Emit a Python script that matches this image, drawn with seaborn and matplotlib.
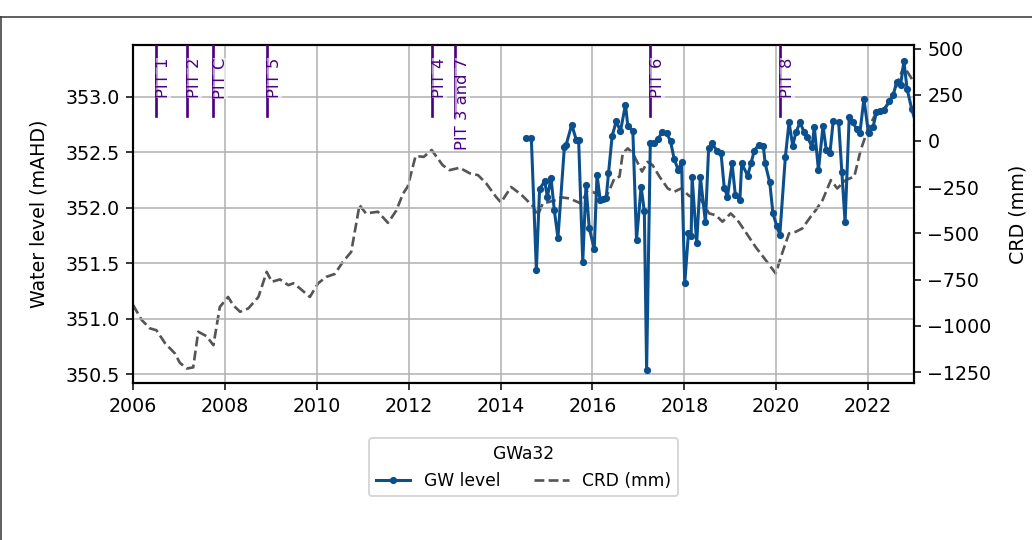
import matplotlib
matplotlib.use("Agg")
import matplotlib.pyplot as plt
import seaborn as sns
import pandas as pd
from matplotlib.lines import Line2D
from matplotlib.ticker import MultipleLocator, FormatStrFormatter

# ---------------- data ----------------
crd_year = [2006.0, 2006.19, 2006.37, 2006.51, 2006.7, 2006.91, 2007.02, 2007.17, 2007.31, 2007.42,
            2007.6, 2007.75, 2007.89, 2008.07, 2008.18, 2008.33, 2008.51, 2008.73, 2008.91, 2009.02,
            2009.2, 2009.38, 2009.49, 2009.63, 2009.85, 2010.03, 2010.21, 2010.39, 2010.57, 2010.75,
            2010.93, 2011.07, 2011.33, 2011.55, 2011.73, 2011.88, 2011.98, 2012.15, 2012.33, 2012.5,
            2012.74, 2012.89, 2013.11, 2013.33, 2013.51, 2013.69, 2013.9, 2014.01, 2014.23, 2014.45,
            2014.7, 2014.81, 2014.92, 2015.07, 2015.21, 2015.32, 2015.5, 2015.75, 2015.9, 2016.08,
            2016.26, 2016.37, 2016.48, 2016.59, 2016.66, 2016.77, 2016.88, 2016.99, 2017.08, 2017.2,
            2017.31, 2017.46, 2017.64, 2017.78, 2017.93, 2018.11, 2018.36, 2018.54, 2018.69, 2018.83,
            2019.01, 2019.16, 2019.33, 2019.55, 2019.77, 2019.99, 2020.14, 2020.28, 2020.43, 2020.57,
            2020.75, 2020.86, 2021.01, 2021.19, 2021.33, 2021.51, 2021.7, 2021.84, 2021.99, 2022.17,
            2022.35, 2022.5, 2022.69, 2022.78, 2023.0]
crd_mm = [-887, -969, -1014, -1024, -1095, -1149, -1200, -1231, -1225, -1032,
          -1056, -1105, -898, -844, -888, -924, -906, -844, -708, -762,
          -749, -780, -770, -797, -844, -770, -735, -720, -654, -600,
          -347, -392, -383, -443, -377, -284, -247, -82, -86, -49,
          -131, -158, -145, -175, -185, -230, -302, -333, -249, -290,
          -352, -402, -338, -329, -320, -305, -311, -338, -266, -284,
          -320, -266, -202, -193, -67, -40, -67, -121, -166, -113,
          -131, -193, -257, -275, -257, -298, -317, -392, -402, -437,
          -392, -429, -491, -573, -644, -717, -600, -500, -491, -473,
          -410, -375, -320, -212, -257, -212, -193, -49, 59, 150,
          176, 221, 346, 404, 317]

gw_year = [2014.56, 2014.67, 2014.78, 2014.85, 2014.96, 2015.02, 2015.10, 2015.17, 2015.25, 2015.39,
           2015.43, 2015.55, 2015.65, 2015.70, 2015.79, 2015.86, 2015.93, 2016.04, 2016.10, 2016.17,
           2016.24, 2016.30, 2016.35, 2016.43, 2016.52, 2016.61, 2016.72, 2016.77, 2016.88, 2016.96,
           2017.06, 2017.13, 2017.18, 2017.26, 2017.33, 2017.43, 2017.51, 2017.62, 2017.70, 2017.78,
           2017.87, 2017.94, 2018.01, 2018.09, 2018.15, 2018.17, 2018.27, 2018.35, 2018.46, 2018.53,
           2018.60, 2018.72, 2018.80, 2018.87, 2018.94, 2019.04, 2019.11, 2019.21, 2019.25, 2019.38,
           2019.45, 2019.52, 2019.62, 2019.72, 2019.76, 2019.86, 2019.93, 2020.01, 2020.08, 2020.20,
           2020.28, 2020.36, 2020.43, 2020.52, 2020.61, 2020.68, 2020.78, 2020.83, 2020.92, 2021.02,
           2021.09, 2021.17, 2021.24, 2021.36, 2021.43, 2021.50, 2021.59, 2021.67, 2021.75, 2021.82,
           2021.91, 2022.01, 2022.11, 2022.18, 2022.25, 2022.35, 2022.46, 2022.55, 2022.62, 2022.71,
           2022.78, 2022.85, 2022.95, 2023.05]
gw_level = [352.63, 352.63, 351.44, 352.17, 352.24, 352.10, 352.27, 351.98, 351.73, 352.55,
            352.57, 352.75, 352.61, 352.61, 351.51, 352.21, 351.82, 351.63, 352.30, 352.07,
            352.08, 352.09, 352.31, 352.65, 352.78, 352.69, 352.93, 352.74, 352.69, 351.71,
            352.19, 351.97, 350.54, 352.58, 352.58, 352.62, 352.68, 352.67, 352.60, 352.44,
            352.34, 352.41, 351.32, 351.77, 351.75, 352.28, 351.68, 352.28, 351.87, 352.54,
            352.58, 352.51, 352.49, 352.18, 352.10, 352.40, 352.12, 352.07, 352.40, 352.29,
            352.40, 352.51, 352.57, 352.56, 352.40, 352.23, 351.95, 351.84, 351.76, 352.46,
            352.77, 352.56, 352.68, 352.77, 352.68, 352.64, 352.55, 352.73, 352.34, 352.74,
            352.52, 352.49, 352.78, 352.77, 352.32, 351.87, 352.82, 352.77, 352.71, 352.67,
            352.98, 352.67, 352.73, 352.86, 352.87, 352.88, 352.96, 353.02, 353.13, 353.11,
            353.32, 353.07, 352.89, 352.75]

pit_labels = ["PIT 1", "PIT 2", "PIT C", "PIT 5", "PIT 4", "PIT 3 and 7", "PIT 6", "PIT 8"]
pit_year = [2006.5, 2007.17, 2007.75, 2008.92, 2012.5, 2013.0, 2017.25, 2020.08]

legend_title = "GWa32"

# ---------------- figure ----------------
DPI = 137
fig = plt.figure(figsize=(1032 / DPI, 540 / DPI), dpi=DPI)
ax = fig.add_axes([133 / 1032, 1 - 383.3 / 540, (914 - 133) / 1032, (383.3 - 45) / 540])
ax2 = ax.twinx()

gw_df = pd.DataFrame({"year": gw_year, "level": gw_level})
crd_df = pd.DataFrame({"year": crd_year, "crd": crd_mm})

blue = "#0b4f8c"
sns.lineplot(data=gw_df, x="year", y="level", ax=ax, color=blue, marker="o",
             markersize=3.8, markeredgewidth=0, linewidth=1.6, label="GW level", legend=False)
sns.lineplot(data=crd_df, x="year", y="crd", ax=ax2, color="#555555", linestyle="--",
             linewidth=1.4, label="CRD (mm)", legend=False)

ax.set_zorder(ax2.get_zorder() + 1)
ax.patch.set_visible(False)

ax.set_xlim(2006, 2023)
ax.set_ylim(350.42, 353.467)
ax2.set_ylim(-1311, 519)
ax.xaxis.set_major_locator(MultipleLocator(2))
ax.xaxis.set_major_formatter(FormatStrFormatter("%d"))
ax.yaxis.set_major_locator(MultipleLocator(0.5))
ax.yaxis.set_major_formatter(FormatStrFormatter("%.1f"))
ax2.yaxis.set_major_locator(MultipleLocator(250))

ax.grid(True, color="#b0b0b0", linewidth=0.8)
ax2.grid(False)
ax.set_xlabel("")
ax.set_ylabel("Water level (mAHD)", fontsize=10, labelpad=9)
ax2.set_ylabel("CRD (mm)", fontsize=10, labelpad=9)
for a in (ax, ax2):
    for s in a.spines.values():
        s.set_linewidth(1.1)
        s.set_color("black")
    a.tick_params(labelsize=10, colors="black")

# PIT markers
for lab, yr in zip(pit_labels, pit_year):
    ax.axvline(yr, ymin=0.79, ymax=1.0, color="indigo", linewidth=1.4, zorder=3)
    ax.text(yr, 0.962, lab, transform=ax.get_xaxis_transform(), rotation=90,
            ha="left", va="top", color="indigo", fontsize=8.6, zorder=4,
            bbox=dict(facecolor="white", edgecolor="none", alpha=0.6, pad=0))

# legend
h1, l1 = ax.get_legend_handles_labels()
h2, l2 = ax2.get_legend_handles_labels()
leg = ax.legend(h1 + h2, l1 + l2, title=legend_title, loc="upper center",
                bbox_to_anchor=(0.5, -0.162), borderaxespad=0, ncol=2,
                fontsize=9, title_fontsize=9, frameon=True)
leg.get_frame().set_edgecolor("#cccccc")

# figure frame (partially visible)
ytop = 1 - 16.5 / 540
fig.add_artist(Line2D([0, 1], [ytop, ytop], transform=fig.transFigure, color="#333333", linewidth=0.8))
fig.add_artist(Line2D([0.5 / 1032, 0.5 / 1032], [0, ytop], transform=fig.transFigure, color="#333333", linewidth=0.8))

fig.savefig("out.png", dpi=DPI)
